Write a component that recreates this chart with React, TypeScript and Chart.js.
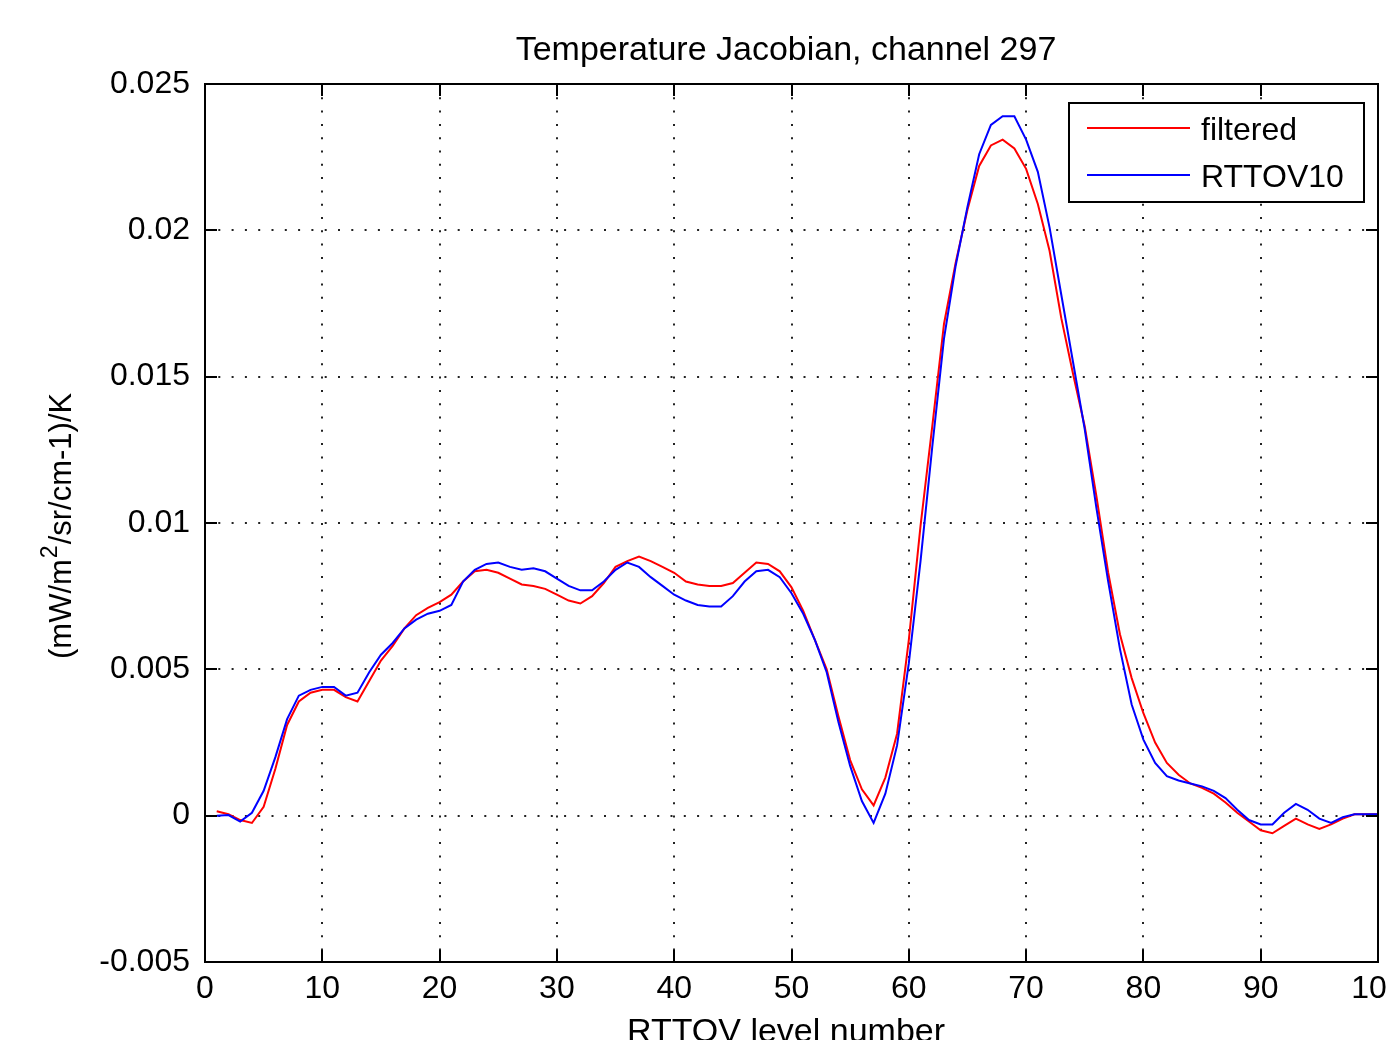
import React, { useEffect, useRef } from "react";
import { Chart, registerables } from "chart.js";

Chart.register(...registerables);

const levels = [
  1, 2, 3, 4, 5, 6, 7, 8, 9, 10,
  11, 12, 13, 14, 15, 16, 17, 18, 19, 20,
  21, 22, 23, 24, 25, 26, 27, 28, 29, 30,
  31, 32, 33, 34, 35, 36, 37, 38, 39, 40,
  41, 42, 43, 44, 45, 46, 47, 48, 49, 50,
  51, 52, 53, 54, 55, 56, 57, 58, 59, 60,
  61, 62, 63, 64, 65, 66, 67, 68, 69, 70,
  71, 72, 73, 74, 75, 76, 77, 78, 79, 80,
  81, 82, 83, 84, 85, 86, 87, 88, 89, 90,
  91, 92, 93, 94, 95, 96, 97, 98, 99, 100,
];

const filtered = [
  0.00015, 0.00005, -0.00015, -0.00025, 0.0003, 0.0016, 0.0031, 0.0039, 0.0042, 0.0043,
  0.0043, 0.00405, 0.0039, 0.0046, 0.0053, 0.0058, 0.0064, 0.00685, 0.0071, 0.0073,
  0.00755, 0.008, 0.00835, 0.0084, 0.0083, 0.0081, 0.0079, 0.00785, 0.00775, 0.00755,
  0.00735, 0.00725, 0.0075, 0.00795, 0.0085, 0.0087, 0.00885, 0.0087, 0.0085, 0.0083,
  0.008, 0.0079, 0.00785, 0.00785, 0.00795, 0.0083, 0.00865, 0.0086, 0.00835, 0.0078,
  0.007, 0.006, 0.005, 0.0034, 0.0019, 0.0009, 0.00035, 0.0013, 0.0028, 0.006,
  0.0099, 0.0133, 0.0168, 0.0189, 0.0207, 0.0222, 0.0229, 0.0231, 0.0228, 0.0221,
  0.0209, 0.0193, 0.017, 0.0151, 0.0133, 0.0109, 0.0083, 0.0062, 0.0047, 0.0035,
  0.0025, 0.0018, 0.0014, 0.0011, 0.00095, 0.00075, 0.00045, 0.0001, -0.0002, -0.0005,
  -0.0006, -0.00035, -0.0001, -0.0003, -0.00045, -0.0003, -0.0001, 0.00005, 0.00005, 0.00005,
];

const rttov10 = [
  0.0, 0.00002, -0.0002, 0.0001, 0.00085, 0.002, 0.0033, 0.0041, 0.0043, 0.0044,
  0.0044, 0.0041, 0.0042, 0.0049, 0.0055, 0.0059, 0.0064, 0.0067, 0.0069, 0.007,
  0.0072, 0.008, 0.0084, 0.0086, 0.00865, 0.0085, 0.0084, 0.00845, 0.00835, 0.0081,
  0.00785, 0.0077, 0.0077, 0.008, 0.0084, 0.00865, 0.0085, 0.00815, 0.00785, 0.00755,
  0.00735, 0.0072, 0.00715, 0.00715, 0.0075, 0.008, 0.00835, 0.0084, 0.00815, 0.0076,
  0.0069, 0.006, 0.0049, 0.0032, 0.0017, 0.0005, -0.00025, 0.00075, 0.0024, 0.0052,
  0.0087, 0.0126, 0.0163, 0.0188, 0.0208, 0.0226, 0.0236, 0.0239, 0.0239, 0.0231,
  0.022, 0.0201, 0.0178, 0.0155, 0.0132, 0.0105, 0.008, 0.0057, 0.0038, 0.0026,
  0.0018, 0.00135, 0.0012, 0.0011, 0.001, 0.00085, 0.0006, 0.0002, -0.00015, -0.0003,
  -0.0003, 0.0001, 0.0004, 0.0002, -0.0001, -0.00025, -0.00005, 0.00005, 0.00005, 0.00005,
];

const seriesLabels = ["filtered", "RTTOV10"];
const xTickValues = [0, 10, 20, 30, 40, 50, 60, 70, 80, 90, 100];
const xTickLabels = ["0", "10", "20", "30", "40", "50", "60", "70", "80", "90", "100"];
const yTickValues = [-0.005, 0, 0.005, 0.01, 0.015, 0.02, 0.025];
const yTickLabels = ["-0.005", "0", "0.005", "0.01", "0.015", "0.02", "0.025"];

const titleText = "Temperature Jacobian, channel 297";
const xTitle = "RTTOV level number";
// y-axis title pieces: base, superscript, rest
const yTitleParts = ["(mW/m", "2", "/sr/cm-1)/K"];

const FONT = "'Liberation Sans', Arial, Helvetica, sans-serif";
const CW = 1420;
const CH = 1080;

const boxPlugin = {
  id: "matlabBox",
  afterDraw(chart: any) {
    const { ctx, chartArea } = chart;
    const { left, right, top, bottom } = chartArea;
    const xs = chart.scales.x;
    const ys = chart.scales.y;
    ctx.save();
    ctx.strokeStyle = "#000";
    ctx.lineWidth = 2;
    ctx.strokeRect(left, top, right - left, bottom - top);
    const tl = 12;
    ctx.beginPath();
    xTickValues.forEach((v) => {
      const px = Math.round(xs.getPixelForValue(v));
      ctx.moveTo(px, bottom);
      ctx.lineTo(px, bottom - tl);
      ctx.moveTo(px, top);
      ctx.lineTo(px, top + tl);
    });
    yTickValues.forEach((v) => {
      const py = Math.round(ys.getPixelForValue(v));
      ctx.moveTo(left, py);
      ctx.lineTo(left + tl, py);
      ctx.moveTo(right, py);
      ctx.lineTo(right - tl, py);
    });
    ctx.stroke();

    // titles
    ctx.fillStyle = "#000";
    ctx.textBaseline = "alphabetic";
    ctx.textAlign = "center";
    ctx.font = `34px ${FONT}`;
    ctx.fillText(titleText, 786, 60);
    ctx.fillText(xTitle, 786, 1042);

    // y title with superscript, rotated
    ctx.save();
    ctx.translate(71, 659);
    ctx.rotate(-Math.PI / 2);
    ctx.textAlign = "left";
    ctx.font = `31px ${FONT}`;
    const w1 = ctx.measureText(yTitleParts[0]).width;
    ctx.fillText(yTitleParts[0], 0, 0);
    ctx.font = `23px ${FONT}`;
    const w2 = ctx.measureText(yTitleParts[1]).width;
    ctx.fillText(yTitleParts[1], w1 + 1, -14);
    ctx.font = `31px ${FONT}`;
    ctx.fillText(yTitleParts[2], w1 + w2 + 2, 0);
    ctx.restore();

    // legend box
    const lx = 1069, ly = 103, lw = 295, lh = 99;
    ctx.fillStyle = "#fff";
    ctx.fillRect(lx, ly, lw, lh);
    ctx.lineWidth = 2;
    ctx.strokeStyle = "#000";
    ctx.strokeRect(lx, ly, lw, lh);
    const rows = [128, 175];
    chart.data.datasets.forEach((ds: any, i: number) => {
      const yy = rows[i];
      ctx.strokeStyle = ds.borderColor;
      ctx.lineWidth = 2;
      ctx.beginPath();
      ctx.moveTo(1087, yy);
      ctx.lineTo(1190, yy);
      ctx.stroke();
      ctx.fillStyle = "#000";
      ctx.font = `32px ${FONT}`;
      ctx.textAlign = "left";
      ctx.textBaseline = "middle";
      ctx.fillText(ds.label, 1201, yy + 3);
    });
    ctx.restore();
  },
};

export default function App() {
  const ref = useRef<HTMLCanvasElement | null>(null);

  useEffect(() => {
    document.body.style.margin = "0";
    document.body.style.overflow = "hidden";
    const canvas = ref.current;
    if (!canvas) return;
    const chart = new Chart(canvas, {
      type: "line",
      data: {
        labels: levels,
        datasets: [
          {
            label: seriesLabels[0],
            data: levels.map((l, i) => ({ x: l, y: filtered[i] })),
            borderColor: "#ff0000",
            borderWidth: 2,
            pointRadius: 0,
            tension: 0,
            fill: false,
            order: 1,
          },
          {
            label: seriesLabels[1],
            data: levels.map((l, i) => ({ x: l, y: rttov10[i] })),
            borderColor: "#0000ff",
            borderWidth: 2,
            pointRadius: 0,
            tension: 0,
            fill: false,
            order: 0,
          },
        ],
      },
      options: {
        responsive: false,
        animation: false,
        devicePixelRatio: 1,
        layout: { padding: { left: 0, right: CW - 1378, top: 84, bottom: 0 } },
        plugins: {
          legend: { display: false },
          tooltip: { enabled: false },
          title: { display: false },
        },
        scales: {
          x: {
            type: "linear",
            min: 0,
            max: 100,
            afterFit(scale: any) {
              scale.height = CH - 962;
            },
            afterBuildTicks(scale: any) {
              scale.ticks = xTickValues.map((v) => ({ value: v }));
            },
            ticks: {
              color: "#000",
              font: { family: FONT, size: 32 },
              padding: 8,
              maxRotation: 0,
              autoSkip: false,
              callback: (_v: any, i: number) => xTickLabels[i],
            },
            grid: { color: "#222", lineWidth: 2, drawTicks: false },
            border: { display: false, dash: [2, 11.3] },
          },
          y: {
            type: "linear",
            min: -0.005,
            max: 0.025,
            afterFit(scale: any) {
              scale.width = 205;
            },
            afterBuildTicks(scale: any) {
              scale.ticks = yTickValues.map((v) => ({ value: v }));
            },
            ticks: {
              color: "#000",
              font: { family: FONT, size: 32 },
              padding: 15,
              autoSkip: false,
              callback: (_v: any, i: number) => yTickLabels[i],
            },
            grid: { color: "#222", lineWidth: 2, drawTicks: false },
            border: { display: false, dash: [2, 11.3] },
          },
        },
      },
      plugins: [boxPlugin],
    } as any);
    return () => chart.destroy();
  }, []);

  return (
    <div
      style={{
        position: "absolute",
        left: 0,
        top: 0,
        width: 1386,
        height: 1040,
        overflow: "hidden",
        background: "#fff",
      }}
    >
      <canvas ref={ref} width={CW} height={CH} style={{ display: "block" }} />
    </div>
  );
}
